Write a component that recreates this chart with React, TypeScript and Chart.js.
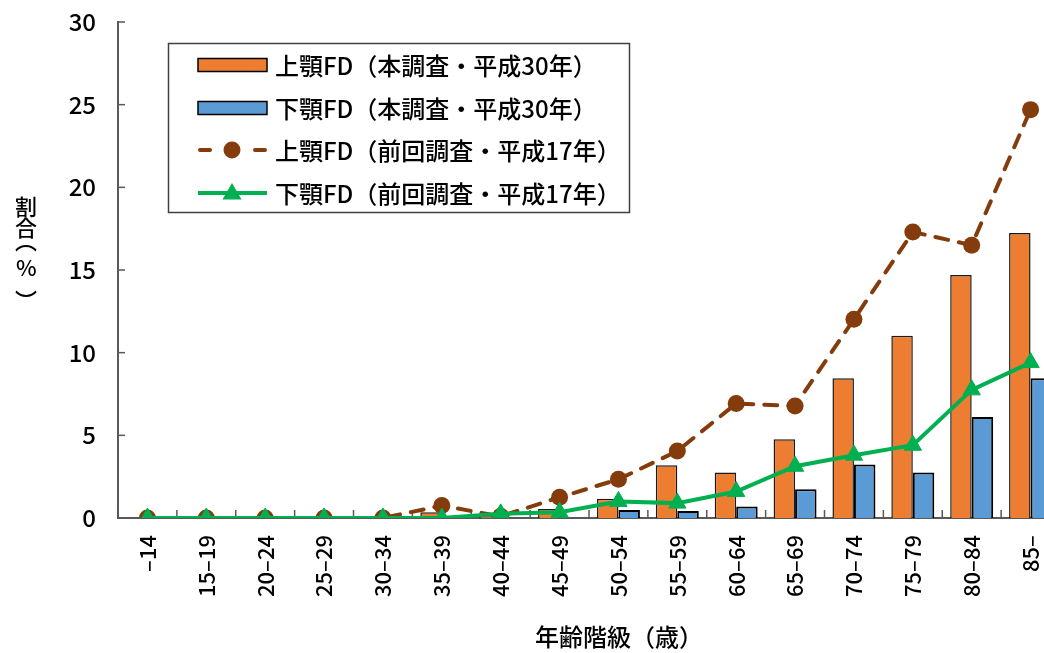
import React, { useEffect, useRef } from "react";
import { Chart, registerables } from "chart.js";

Chart.register(...registerables);

const categories = ["–14", "15–19", "20–24", "25–29", "30–34", "35–39", "40–44", "45–49", "50–54", "55–59", "60–64", "65–69", "70–74", "75–79", "80–84", "85–"];
const upperH30 = [0, 0, 0, 0, 0, 0.35, 0.1, 0.55, 1.17, 3.19, 2.75, 4.76, 8.45, 11.03, 14.7, 17.24];
const lowerH30 = [0, 0, 0, 0, 0, 0, 0, 0, 0.48, 0.42, 0.69, 1.74, 3.23, 2.75, 6.11, 8.45];
const upperH17 = [0, 0, 0, 0, 0, 0.75, 0.1, 1.25, 2.34, 4.05, 6.92, 6.78, 12.02, 17.3, 16.5, 24.7];
const lowerH17 = [0, 0, 0, 0, 0, 0, 0.25, 0.35, 1.0, 0.9, 1.6, 3.13, 3.8, 4.4, 7.75, 9.4];
const seriesLabels = [
  "上顎FD（本調査・平成30年）",
  "下顎FD（本調査・平成30年）",
  "上顎FD（前回調査・平成17年）",
  "下顎FD（前回調査・平成17年）",
];
const yTitleChars = ["割", "合", "︵", "%", "︶"];
const xTitle = "年齢階級（歳）";
const yTicks = [0, 5, 10, 15, 20, 25, 30];

const FONT = '"Noto Sans CJK JP", "Noto Sans", sans-serif';
const ORANGE = "#ED7D31";
const BLUE = "#5B9BD5";
const BROWN = "#843C0C";
const GREEN = "#00B050";
const AXIS = "#595959";

function drawTriangle(ctx: CanvasRenderingContext2D, x: number, y: number, r: number) {
  ctx.beginPath();
  for (let k = 0; k < 3; k++) {
    const a = (k * 2 * Math.PI) / 3;
    const px = x + Math.sin(a) * r;
    const py = y - Math.cos(a) * r;
    if (k === 0) ctx.moveTo(px, py);
    else ctx.lineTo(px, py);
  }
  ctx.closePath();
  ctx.fill();
}

// draws a glyph so that its ink box is centred on (cx, cy)
function drawCentered(ctx: CanvasRenderingContext2D, c: string, cx: number, cy: number) {
  ctx.textAlign = "left";
  ctx.textBaseline = "alphabetic";
  const m = ctx.measureText(c);
  const l = m.actualBoundingBoxLeft;
  const r = m.actualBoundingBoxRight;
  const a = m.actualBoundingBoxAscent;
  const d = m.actualBoundingBoxDescent;
  ctx.fillText(c, cx - (r - l) / 2, cy + (a - d) / 2);
}

const decor = {
  id: "decor",
  beforeDatasetsDraw(chart: any) {
    const { ctx, chartArea, scales } = chart;
    const x = scales.x;
    const y = scales.y;
    ctx.save();
    ctx.strokeStyle = AXIS;
    ctx.lineWidth = 1.5;
    yTicks.forEach((v) => {
      const py = y.getPixelForValue(v);
      ctx.beginPath();
      ctx.moveTo(chartArea.left, py);
      ctx.lineTo(chartArea.left + 7, py);
      ctx.stroke();
    });
    const half = (x.getPixelForValue(1) - x.getPixelForValue(0)) / 2;
    for (let i = 0; i <= categories.length; i++) {
      const px = x.getPixelForValue(i) - half;
      ctx.beginPath();
      ctx.moveTo(px, chartArea.bottom);
      ctx.lineTo(px, chartArea.bottom - 8);
      ctx.stroke();
    }
    ctx.restore();
  },
  afterDraw(chart: any) {
    const { ctx } = chart;
    ctx.save();
    ctx.fillStyle = "#fff";
    ctx.fillRect(168, 43, 462, 170);
    ctx.strokeStyle = "#404040";
    ctx.lineWidth = 1.5;
    ctx.strokeRect(168.5, 43.5, 461, 169);
    const rows = [65, 108, 150, 193];
    [ORANGE, BLUE].forEach((c, i) => {
      const cy = rows[i];
      ctx.fillStyle = c;
      ctx.fillRect(198, cy - 6.5, 69, 13);
      ctx.strokeStyle = "#000";
      ctx.lineWidth = 1.5;
      ctx.strokeRect(198, cy - 6.5, 69, 13);
    });
    ctx.strokeStyle = BROWN;
    ctx.fillStyle = BROWN;
    ctx.lineWidth = 4;
    ctx.lineCap = "round";
    ctx.beginPath();
    ctx.moveTo(200, rows[2]);
    ctx.lineTo(210, rows[2]);
    ctx.moveTo(255, rows[2]);
    ctx.lineTo(265, rows[2]);
    ctx.stroke();
    ctx.beginPath();
    ctx.arc(232, rows[2], 8.5, 0, Math.PI * 2);
    ctx.fill();
    ctx.strokeStyle = GREEN;
    ctx.fillStyle = GREEN;
    ctx.lineCap = "butt";
    ctx.beginPath();
    ctx.moveTo(198, rows[3]);
    ctx.lineTo(267, rows[3]);
    ctx.stroke();
    drawTriangle(ctx, 232, rows[3] + 1, 11);
    ctx.fillStyle = "#000";
    ctx.font = `500 24px ${FONT}`;
    ctx.textBaseline = "middle";
    ctx.textAlign = "left";
    seriesLabels.forEach((t, i) => ctx.fillText(t, 275, rows[i] + 1));
    ctx.font = `500 22px ${FONT}`;
    const yPos = [207, 228, 248, 268, 293];
    yTitleChars.forEach((c, i) => drawCentered(ctx, c, 26, yPos[i]));
    ctx.font = `500 24px ${FONT}`;
    ctx.textAlign = "center";
    ctx.textBaseline = "middle";
    ctx.fillText(xTitle, 619, 637);
    ctx.restore();
  },
};

export default function App() {
  const ref = useRef<HTMLCanvasElement>(null);
  useEffect(() => {
    const canvas = ref.current;
    if (!canvas) return;
    const chart = new Chart(canvas, {
      type: "bar",
      data: {
        labels: categories,
        datasets: [
          {
            type: "bar",
            label: seriesLabels[0],
            data: upperH30,
            backgroundColor: ORANGE,
            borderColor: "#1a1a1a",
            borderWidth: 1.5,
            categoryPercentage: 0.73,
            barPercentage: 1.0,
            order: 2,
          },
          {
            type: "bar",
            label: seriesLabels[1],
            data: lowerH30,
            backgroundColor: BLUE,
            borderColor: "#000",
            borderWidth: 2,
            categoryPercentage: 0.73,
            barPercentage: 1.0,
            order: 3,
          },
          {
            type: "line",
            label: seriesLabels[2],
            data: upperH17,
            borderColor: BROWN,
            backgroundColor: BROWN,
            borderWidth: 4,
            borderDash: [13, 11],
            borderCapStyle: "round",
            pointStyle: "circle",
            pointRadius: 8.5,
            pointBorderWidth: 0,
            tension: 0,
            order: 1,
          },
          {
            type: "line",
            label: seriesLabels[3],
            data: lowerH17,
            borderColor: GREEN,
            backgroundColor: GREEN,
            borderWidth: 4,
            pointStyle: "triangle",
            pointRadius: 10,
            pointBorderWidth: 1,
            tension: 0,
            order: 0,
          },
        ],
      } as any,
      options: {
        responsive: false,
        animation: false,
        layout: { padding: { top: 22, right: 5, left: 0, bottom: 0 } },
        plugins: { legend: { display: false }, tooltip: { enabled: false } },
        scales: {
          x: {
            offset: true,
            grid: { display: false, drawTicks: false },
            border: { display: true, color: AXIS, width: 2 },
            ticks: {
              autoSkip: false,
              maxRotation: 90,
              minRotation: 90,
              padding: 17,
              color: "#000",
              font: { family: FONT, size: 22, weight: "500" },
            },
            afterFit: (s: any) => {
              s.height = 135;
              s.paddingLeft = 0;
              s.paddingRight = 0;
            },
          },
          y: {
            min: 0,
            max: 30,
            grid: { display: false, drawTicks: false },
            border: { display: true, color: AXIS, width: 2 },
            ticks: {
              stepSize: 5,
              padding: 22,
              color: "#000",
              font: { family: FONT, size: 24, weight: "500" },
            },
            afterFit: (s: any) => {
              s.width = 118;
              s.paddingTop = 0;
              s.paddingBottom = 0;
            },
          },
        },
      } as any,
      plugins: [decor],
    });
    return () => chart.destroy();
  }, []);
  return (
    <div style={{ position: "fixed", left: 0, top: 0, width: 1044, height: 653, overflow: "hidden", background: "#fff" }}>
      <canvas ref={ref} width={1071} height={653} style={{ display: "block" }} />
    </div>
  );
}
